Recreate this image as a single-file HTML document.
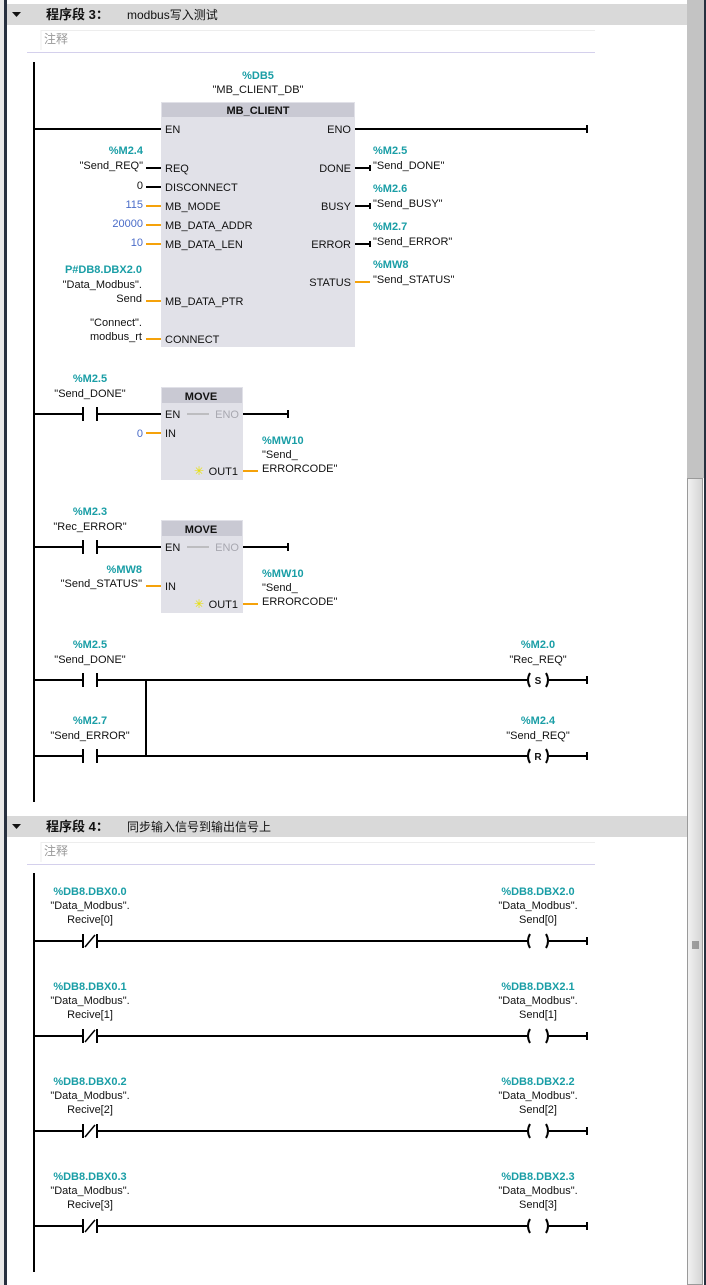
<!DOCTYPE html>
<html><head><meta charset="utf-8"><style>
html,body{margin:0;padding:0;background:#fff;width:706px;height:1285px;overflow:hidden}
svg{display:block}
text{font-family:"Liberation Sans","Noto Sans CJK SC",sans-serif;font-size:11px;fill:#111}
.t{fill:#1a9ea6;font-weight:bold}
.n{fill:#4a6cc8}
.g{fill:#a8a8b0}
</style></head><body>
<svg width="706" height="1285" viewBox="0 0 706 1285" xmlns="http://www.w3.org/2000/svg">
<defs>
<linearGradient id="th" x1="0" x2="1"><stop offset="0" stop-color="#f2f2f2"/><stop offset="1" stop-color="#d4d4d4"/></linearGradient>
</defs>
<rect x="0" y="0" width="4" height="1285" fill="#e8e8e8"/>
<rect x="4" y="0" width="3" height="1285" fill="#27303f"/>
<rect x="687" y="0" width="17" height="478" fill="#c3c3c3"/>
<rect x="687.5" y="478.5" width="15" height="806" fill="url(#th)" stroke="#9a9a9a"/>
<rect x="704" y="0" width="2" height="1285" fill="#27303f"/>
<g stroke="#555" stroke-width="1"><line x1="692" y1="942" x2="699" y2="942"/><line x1="692" y1="944" x2="699" y2="944"/><line x1="692" y1="946" x2="699" y2="946"/><line x1="692" y1="948" x2="699" y2="948"/></g>

<rect x="7" y="4" width="680" height="21" fill="#d9d9d9"/>
<polygon points="12,12 21,12 16.5,17" fill="#111"/>
<text x="46" y="19" style="font-size:13px;font-weight:bold">程序段 3：</text>
<text x="127" y="19" style="font-size:12px">modbus写入测试</text>
<line x1="41" y1="30.5" x2="595" y2="30.5" stroke="#ededed"/>
<line x1="41" y1="30" x2="41" y2="50" stroke="#ededed"/>
<text x="44" y="43" style="font-size:12px;fill:#999">注释</text>
<line x1="27" y1="52.5" x2="595" y2="52.5" stroke="#d4d0ec"/>

<g stroke="#000" stroke-width="2" fill="none">
<line x1="34" y1="62" x2="34" y2="802"/>
<line x1="34" y1="129" x2="161" y2="129"/>
<line x1="355" y1="129" x2="587" y2="129"/><line x1="587" y1="125" x2="587" y2="133"/>
<line x1="146" y1="168" x2="161" y2="168"/>
<line x1="146" y1="187" x2="161" y2="187"/>
<line x1="355" y1="168" x2="370" y2="168"/><line x1="370" y1="165" x2="370" y2="171"/>
<line x1="355" y1="206" x2="370" y2="206"/><line x1="370" y1="203" x2="370" y2="209"/>
<line x1="355" y1="244" x2="370" y2="244"/><line x1="370" y1="241" x2="370" y2="247"/>
</g>
<g stroke="#f5a20a" stroke-width="2">
<line x1="146" y1="206" x2="161" y2="206"/>
<line x1="146" y1="225" x2="161" y2="225"/>
<line x1="146" y1="244" x2="161" y2="244"/>
<line x1="146" y1="301" x2="161" y2="301"/>
<line x1="146" y1="339" x2="161" y2="339"/>
<line x1="355" y1="282" x2="370" y2="282"/>
</g>
<rect x="161" y="102" width="194" height="245" fill="#e1e1e8"/>
<rect x="162" y="103" width="192" height="14" fill="#c9c9d3"/>
<text x="258" y="114" text-anchor="middle" style="font-weight:bold">MB_CLIENT</text>
<text class="t" x="258" y="79" text-anchor="middle">%DB5</text>
<text x="258" y="93" text-anchor="middle">"MB_CLIENT_DB"</text>
<g>
<text x="165" y="133">EN</text>
<text x="165" y="172">REQ</text>
<text x="165" y="191">DISCONNECT</text>
<text x="165" y="210">MB_MODE</text>
<text x="165" y="229">MB_DATA_ADDR</text>
<text x="165" y="248">MB_DATA_LEN</text>
<text x="165" y="305">MB_DATA_PTR</text>
<text x="165" y="343">CONNECT</text>
<text x="351" y="133" text-anchor="end">ENO</text>
<text x="351" y="172" text-anchor="end">DONE</text>
<text x="351" y="210" text-anchor="end">BUSY</text>
<text x="351" y="248" text-anchor="end">ERROR</text>
<text x="351" y="286" text-anchor="end">STATUS</text>
</g>
<g text-anchor="end">
<text class="t" x="143" y="154">%M2.4</text>
<text x="143" y="169">"Send_REQ"</text>
<text x="143" y="189">0</text>
<text class="n" x="143" y="208">115</text>
<text class="n" x="143" y="227">20000</text>
<text class="n" x="143" y="246">10</text>
<text class="t" x="142" y="273">P#DB8.DBX2.0</text>
<text x="142" y="288">"Data_Modbus".</text>
<text x="142" y="302">Send</text>
<text x="142" y="326">"Connect".</text>
<text x="142" y="340">modbus_rt</text>
</g>
<g>
<text class="t" x="373" y="154">%M2.5</text>
<text x="373" y="169">"Send_DONE"</text>
<text class="t" x="373" y="192">%M2.6</text>
<text x="373" y="207">"Send_BUSY"</text>
<text class="t" x="373" y="230">%M2.7</text>
<text x="373" y="245">"Send_ERROR"</text>
<text class="t" x="373" y="268">%MW8</text>
<text x="373" y="283">"Send_STATUS"</text>
</g>

<g stroke="#000" stroke-width="2">
<line x1="34" y1="414" x2="83" y2="414"/><line x1="83" y1="407" x2="83" y2="421"/><line x1="97" y1="407" x2="97" y2="421"/><line x1="97" y1="414" x2="161" y2="414"/>
<line x1="243" y1="414" x2="288" y2="414"/><line x1="288" y1="410" x2="288" y2="418"/>
<line x1="34" y1="547" x2="83" y2="547"/><line x1="83" y1="540" x2="83" y2="554"/><line x1="97" y1="540" x2="97" y2="554"/><line x1="97" y1="547" x2="161" y2="547"/>
<line x1="243" y1="547" x2="288" y2="547"/><line x1="288" y1="543" x2="288" y2="551"/>
</g>
<g stroke="#f5a20a" stroke-width="2">
<line x1="146" y1="433" x2="161" y2="433"/><line x1="243" y1="471" x2="258" y2="471"/>
<line x1="146" y1="586" x2="161" y2="586"/><line x1="243" y1="604" x2="258" y2="604"/>
</g>
<rect x="161" y="387" width="82" height="93" fill="#e1e1e8"/>
<rect x="162" y="388" width="80" height="15" fill="#c9c9d3"/>
<rect x="161" y="520" width="82" height="93" fill="#e1e1e8"/>
<rect x="162" y="521" width="80" height="15" fill="#c9c9d3"/>
<g>
<text x="201" y="400" text-anchor="middle" style="font-weight:bold">MOVE</text>
<text x="165" y="418">EN</text><line x1="187" y1="414" x2="209" y2="414" stroke="#999"/><text class="g" x="239" y="418" text-anchor="end">ENO</text>
<text x="165" y="437">IN</text>
<text x="238" y="475" text-anchor="end">OUT1</text><text x="194" y="475" style="fill:#e8e000;font-size:12px">✳</text>
<text x="201" y="533" text-anchor="middle" style="font-weight:bold">MOVE</text>
<text x="165" y="551">EN</text><line x1="187" y1="547" x2="209" y2="547" stroke="#999"/><text class="g" x="239" y="551" text-anchor="end">ENO</text>
<text x="165" y="590">IN</text>
<text x="238" y="608" text-anchor="end">OUT1</text><text x="194" y="608" style="fill:#e8e000;font-size:12px">✳</text>
</g>
<text x="143" y="437" text-anchor="end" class="n">0</text>
<text class="t" x="90" y="382" text-anchor="middle">%M2.5</text>
<text x="90" y="397" text-anchor="middle">"Send_DONE"</text>
<text class="t" x="262" y="444">%MW10</text><text x="262" y="458">"Send_</text><text x="262" y="472">ERRORCODE"</text>
<text class="t" x="90" y="515" text-anchor="middle">%M2.3</text>
<text x="90" y="530" text-anchor="middle">"Rec_ERROR"</text>
<text class="t" x="142" y="573" text-anchor="end">%MW8</text>
<text x="142" y="587" text-anchor="end">"Send_STATUS"</text>
<text class="t" x="262" y="577">%MW10</text><text x="262" y="591">"Send_</text><text x="262" y="605">ERRORCODE"</text>

<g stroke="#000" stroke-width="2" fill="none">
<line x1="34" y1="680" x2="83" y2="680"/><line x1="83" y1="673" x2="83" y2="687"/><line x1="97" y1="673" x2="97" y2="687"/><line x1="97" y1="680" x2="527" y2="680"/>
<line x1="34" y1="756" x2="83" y2="756"/><line x1="83" y1="749" x2="83" y2="763"/><line x1="97" y1="749" x2="97" y2="763"/><line x1="97" y1="756" x2="527" y2="756"/>
<line x1="146" y1="679" x2="146" y2="757"/>
<path d="M530,673 Q526,680 530,687"/><path d="M546,673 Q550,680 546,687"/>
<path d="M530,749 Q526,756 530,763"/><path d="M546,749 Q550,756 546,763"/>
<line x1="549" y1="680" x2="587" y2="680"/><line x1="587" y1="676" x2="587" y2="684"/>
<line x1="549" y1="756" x2="587" y2="756"/><line x1="587" y1="752" x2="587" y2="760"/>
</g>
<text x="538" y="684" text-anchor="middle" style="font-size:10px;font-weight:bold">S</text>
<text x="538" y="760" text-anchor="middle" style="font-size:10px;font-weight:bold">R</text>
<text class="t" x="90" y="648" text-anchor="middle">%M2.5</text>
<text x="90" y="663" text-anchor="middle">"Send_DONE"</text>
<text class="t" x="90" y="724" text-anchor="middle">%M2.7</text>
<text x="90" y="739" text-anchor="middle">"Send_ERROR"</text>
<text class="t" x="538" y="648" text-anchor="middle">%M2.0</text>
<text x="538" y="663" text-anchor="middle">"Rec_REQ"</text>
<text class="t" x="538" y="724" text-anchor="middle">%M2.4</text>
<text x="538" y="739" text-anchor="middle">"Send_REQ"</text>

<rect x="7" y="816" width="680" height="21" fill="#d9d9d9"/>
<polygon points="12,824 21,824 16.5,829" fill="#111"/>
<text x="46" y="831" style="font-size:13px;font-weight:bold">程序段 4：</text>
<text x="127" y="831" style="font-size:12px">同步输入信号到输出信号上</text>
<line x1="41" y1="842.5" x2="595" y2="842.5" stroke="#ededed"/>
<line x1="41" y1="842" x2="41" y2="862" stroke="#ededed"/>
<text x="44" y="855" style="font-size:12px;fill:#999">注释</text>
<line x1="27" y1="864.5" x2="595" y2="864.5" stroke="#d4d0ec"/>
<line x1="34" y1="873" x2="34" y2="1272" stroke="#000" stroke-width="2"/>

<g id="r0">
<g stroke="#000" stroke-width="2" fill="none">
<line x1="34" y1="941" x2="83" y2="941"/><line x1="83" y1="934" x2="83" y2="948"/><line x1="97" y1="934" x2="97" y2="948"/><line x1="85" y1="947" x2="95" y2="935" stroke-width="1.5"/><line x1="97" y1="941" x2="527" y2="941"/>
<path d="M530,934 Q526,941 530,948"/><path d="M546,934 Q550,941 546,948"/>
<line x1="549" y1="941" x2="587" y2="941"/><line x1="587" y1="937" x2="587" y2="945"/>
</g>
</g>
<use href="#r0" y="95"/><use href="#r0" y="190"/><use href="#r0" y="285"/>
<g text-anchor="middle">
<text class="t" x="90" y="895">%DB8.DBX0.0</text><text x="90" y="909">"Data_Modbus".</text><text x="90" y="923">Recive[0]</text>
<text class="t" x="538" y="895">%DB8.DBX2.0</text><text x="538" y="909">"Data_Modbus".</text><text x="538" y="923">Send[0]</text>
<text class="t" x="90" y="990">%DB8.DBX0.1</text><text x="90" y="1004">"Data_Modbus".</text><text x="90" y="1018">Recive[1]</text>
<text class="t" x="538" y="990">%DB8.DBX2.1</text><text x="538" y="1004">"Data_Modbus".</text><text x="538" y="1018">Send[1]</text>
<text class="t" x="90" y="1085">%DB8.DBX0.2</text><text x="90" y="1099">"Data_Modbus".</text><text x="90" y="1113">Recive[2]</text>
<text class="t" x="538" y="1085">%DB8.DBX2.2</text><text x="538" y="1099">"Data_Modbus".</text><text x="538" y="1113">Send[2]</text>
<text class="t" x="90" y="1180">%DB8.DBX0.3</text><text x="90" y="1194">"Data_Modbus".</text><text x="90" y="1208">Recive[3]</text>
<text class="t" x="538" y="1180">%DB8.DBX2.3</text><text x="538" y="1194">"Data_Modbus".</text><text x="538" y="1208">Send[3]</text>
</g>
</svg>
</body></html>
